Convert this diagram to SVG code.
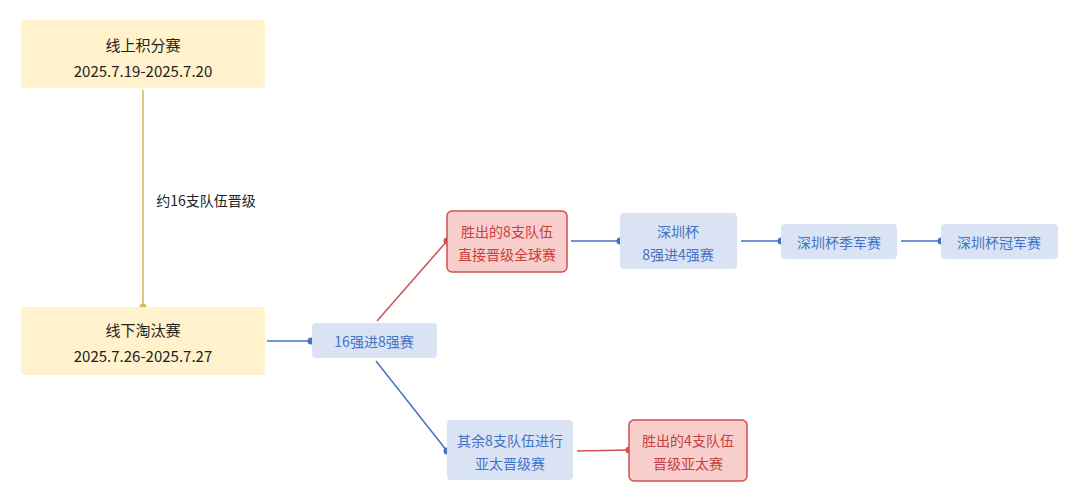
<svg xmlns="http://www.w3.org/2000/svg" width="1080" height="502" viewBox="0 0 1080 502">
<style>
text{font-family:"Source Han Sans SC","Noto Sans CJK SC",sans-serif;font-size:14px;text-anchor:middle;dominant-baseline:central}
.y rect{fill:#fff2cc}.y text{fill:#222;font-size:15px}
.b rect{fill:#dae3f3}.b text{fill:#4472c4}
.r rect{fill:#f8cecc;stroke:#d05050;stroke-width:1.5}.r text{fill:#c84040}
.lb{stroke:#4472c4;stroke-width:1.5;fill:none}.lr{stroke:#d05050;stroke-width:1.5;fill:none}.ly{stroke:#d6b656;stroke-width:1.5;fill:none}
</style>
<rect width="1080" height="502" fill="#fff"/>
<g id="connectors">
<line class="ly" x1="143" y1="90" x2="143" y2="307"/><circle cx="143" cy="307" r="3.5" fill="#d6b656"/>
<text x="206" y="200" style="fill:#222">约16支队伍晋级</text>
<line class="lb" x1="267" y1="341" x2="311" y2="341"/><circle cx="311" cy="341" r="3.5" fill="#4472c4"/>
<line class="lr" x1="377" y1="321" x2="447" y2="241"/><circle cx="447" cy="241" r="3.5" fill="#d05050"/>
<line class="lb" x1="376" y1="361" x2="447" y2="451"/><circle cx="447" cy="451" r="3.5" fill="#4472c4"/>
<line class="lr" x1="577" y1="451" x2="629" y2="450"/><circle cx="629" cy="450" r="3.5" fill="#d05050"/>
<line class="lb" x1="571" y1="241" x2="620" y2="241"/><circle cx="620" cy="241" r="3.5" fill="#4472c4"/>
<line class="lb" x1="741" y1="241" x2="781" y2="241"/><circle cx="781" cy="241" r="3.5" fill="#4472c4"/>
<line class="lb" x1="901" y1="241" x2="941" y2="241"/><circle cx="941" cy="241" r="3.5" fill="#4472c4"/>
</g>
<g id="n1" class="y"><rect x="21" y="20" width="244" height="68" rx="4"/><text x="143" y="44">线上积分赛</text><text x="143" y="70">2025.7.19-2025.7.20</text></g>
<g id="n2" class="y"><rect x="21" y="307" width="244" height="68" rx="4"/><text x="143" y="329">线下淘汰赛</text><text x="143" y="355">2025.7.26-2025.7.27</text></g>
<g id="n3" class="b"><rect x="312" y="323" width="125" height="35" rx="4"/><text x="374" y="341">16强进8强赛</text></g>
<g id="n4" class="r"><rect x="447" y="211" width="120" height="61" rx="5"/><text x="507" y="231">胜出的8支队伍</text><text x="507" y="254">直接晋级全球赛</text></g>
<g id="n5" class="b"><rect x="447" y="420" width="126" height="60" rx="4"/><text x="510" y="440">其余8支队伍进行</text><text x="510" y="463">亚太晋级赛</text></g>
<g id="n6" class="r"><rect x="629" y="420" width="118" height="61" rx="5"/><text x="688" y="440">胜出的4支队伍</text><text x="688" y="463">晋级亚太赛</text></g>
<g id="n7" class="b"><rect x="620" y="213" width="117" height="56" rx="4"/><text x="678" y="231">深圳杯</text><text x="678" y="254">8强进4强赛</text></g>
<g id="n8" class="b"><rect x="781" y="224" width="116" height="35" rx="4"/><text x="839" y="242">深圳杯季军赛</text></g>
<g id="n9" class="b"><rect x="941" y="224" width="117" height="35" rx="4"/><text x="999" y="242">深圳杯冠军赛</text></g>
</svg>
